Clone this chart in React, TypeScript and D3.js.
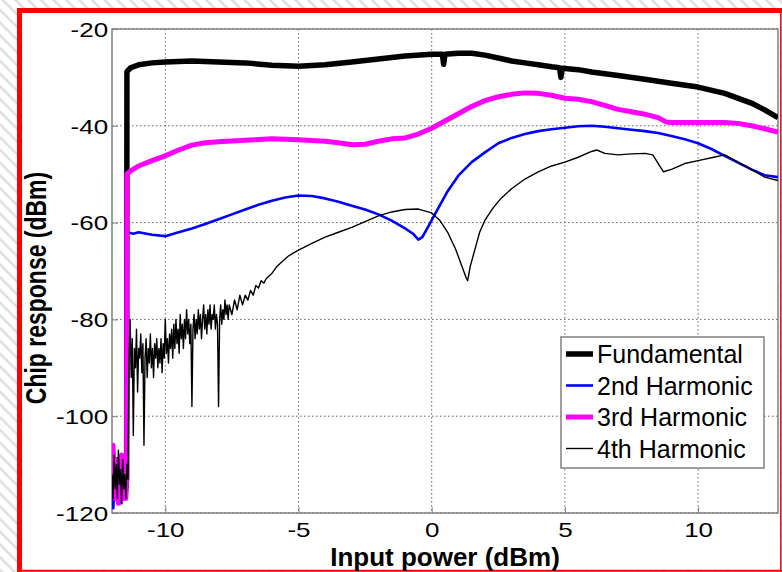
import { useEffect, useRef } from 'react';
import * as d3 from 'd3';

// [input power dBm, response dBm]
const fundamental = [
  [-12, -112], [-11.9, -117], [-11.8, -109], [-11.7, -115], [-11.6, -110], [-11.5, -116], [-11.45, -113],
  [-11.44, -28.8], [-11.3, -28], [-11, -27.4], [-10.5, -27], [-10, -26.8], [-9, -26.6], [-8, -26.8],
  [-7, -27], [-6, -27.5], [-5, -27.7], [-4, -27.4], [-3, -26.8], [-2, -26.2], [-1, -25.6], [0, -25.2],
  [0.4, -25.2], [0.45, -27.3], [0.5, -25.2], [1, -25], [1.5, -25], [2, -25.4], [2.5, -26], [3, -26.6],
  [3.5, -27], [4, -27.4], [4.5, -27.8], [4.8, -28], [4.85, -30], [4.9, -28.1], [5.5, -28.4], [6, -28.9],
  [7, -29.6], [8, -30.4], [9, -31.2], [10, -32], [11, -33.3], [12, -35.3], [12.5, -36.7], [13, -38.3],
];

const second = [
  [-12, -116], [-11.95, -119], [-11.9, -112], [-11.85, -117], [-11.8, -110], [-11.75, -116], [-11.7, -113],
  [-11.65, -118], [-11.6, -108], [-11.55, -115], [-11.5, -113], [-11.45, -117], [-11.42, -62],
  [-11.2, -62.3], [-11, -62], [-10.5, -62.5], [-10, -62.8], [-9.5, -62], [-9, -61.2], [-8.5, -60.3],
  [-8, -59.3], [-7.5, -58.3], [-7, -57.3], [-6.5, -56.3], [-6, -55.5], [-5.5, -54.8], [-5, -54.4],
  [-4.5, -54.5], [-4, -55], [-3.5, -55.7], [-3, -56.5], [-2.5, -57.3], [-2, -58.3], [-1.5, -59.6],
  [-1, -61.2], [-0.7, -62.3], [-0.5, -63.5], [-0.35, -63], [-0.1, -60.5], [0, -59.5], [0.3, -56.5],
  [0.6, -53.5], [1, -50.3], [1.5, -47.5], [2, -45.5], [2.5, -43.6], [3, -42.5], [3.5, -41.7], [4, -41.1],
  [4.5, -40.7], [5, -40.4], [5.5, -40.1], [6, -40], [6.5, -40.2], [7, -40.5], [7.5, -40.8], [8, -41.1],
  [8.5, -41.5], [9, -42.1], [9.5, -42.8], [10, -43.6], [10.5, -44.8], [11, -46.2], [11.5, -47.6],
  [12, -49], [12.5, -50.2], [13, -50.6],
];

const third = [
  [-12, -110], [-11.96, -106], [-11.92, -112], [-11.88, -117], [-11.84, -109], [-11.8, -114], [-11.76, -118],
  [-11.72, -111], [-11.68, -116], [-11.64, -108], [-11.6, -113], [-11.56, -117], [-11.52, -115],
  [-11.48, -117], [-11.45, -112], [-11.44, -50], [-11.3, -49.3], [-11, -48.3], [-10.5, -47.2],
  [-10, -46.2], [-9.5, -45], [-9, -44], [-8.5, -43.5], [-8, -43.3], [-7, -43], [-6, -42.7], [-5, -42.9],
  [-4, -43.2], [-3.5, -43.5], [-3, -43.9], [-2.5, -43.8], [-2, -43.2], [-1.5, -42.7], [-1, -42.5],
  [-0.5, -41.7], [0, -40.5], [0.5, -39], [1, -37.5], [1.5, -36], [2, -34.8], [2.5, -34], [3, -33.5],
  [3.5, -33.2], [4, -33.3], [4.5, -33.7], [5, -34.3], [5.5, -34.5], [6, -35], [6.5, -35.8], [7, -36.6],
  [7.5, -37.1], [8, -37.6], [8.5, -38.3], [8.8, -39.2], [9, -39.3], [10, -39.3], [11, -39.3],
  [11.5, -39.5], [12, -40], [12.5, -40.6], [13, -41.3],
];

const fourth = [
  [-12, -112], [-11.96, -117], [-11.92, -108], [-11.88, -115], [-11.84, -110], [-11.8, -117], [-11.76, -107],
  [-11.72, -114], [-11.68, -111], [-11.64, -118], [-11.6, -109], [-11.56, -115], [-11.52, -112],
  [-11.48, -117], [-11.44, -110], [-11.4, -113], [-11.36, -88], [-11.32, -80], [-11.28, -92], [-11.24, -84],
  [-11.2, -104], [-11.16, -86], [-11.12, -90], [-11.08, -82], [-11.04, -95], [-11, -86], [-10.96, -88],
  [-10.92, -83], [-10.88, -91], [-10.84, -85], [-10.8, -106], [-10.76, -88], [-10.72, -84], [-10.68, -92],
  [-10.64, -86], [-10.6, -89], [-10.56, -83], [-10.52, -90], [-10.48, -86], [-10.44, -92], [-10.4, -85],
  [-10.36, -88], [-10.32, -84], [-10.28, -90], [-10.24, -86], [-10.2, -89], [-10.16, -84], [-10.12, -91],
  [-10.08, -85], [-10.04, -88], [-10, -80], [-9.96, -87], [-9.92, -84], [-9.88, -89], [-9.84, -83],
  [-9.8, -86], [-9.76, -82], [-9.72, -88], [-9.68, -81], [-9.64, -86], [-9.6, -80], [-9.56, -85],
  [-9.52, -82], [-9.48, -87], [-9.44, -79], [-9.4, -84], [-9.36, -81], [-9.32, -86], [-9.28, -80],
  [-9.24, -84], [-9.2, -78], [-9.16, -83], [-9.12, -80], [-9.08, -85], [-9.04, -81], [-9, -98],
  [-8.96, -82], [-8.92, -79], [-8.88, -84], [-8.84, -80], [-8.8, -83], [-8.76, -78], [-8.72, -82],
  [-8.68, -79], [-8.64, -84], [-8.6, -80], [-8.56, -77], [-8.52, -82], [-8.48, -79], [-8.44, -83],
  [-8.4, -78], [-8.36, -81], [-8.32, -77], [-8.28, -82], [-8.24, -79], [-8.2, -80], [-8.16, -77],
  [-8.12, -82], [-8.08, -79], [-8.04, -81], [-8, -98], [-7.96, -80], [-7.92, -77], [-7.88, -81],
  [-7.84, -78], [-7.8, -80], [-7.76, -76], [-7.72, -79], [-7.68, -77], [-7.64, -80], [-7.6, -77],
  [-7.5, -79], [-7.4, -76], [-7.3, -78], [-7.2, -75], [-7.1, -77], [-7, -75], [-6.9, -76], [-6.8, -74],
  [-6.7, -75], [-6.6, -73], [-6.5, -73.5], [-6.4, -72], [-6.3, -72.5], [-6.2, -71.5], [-6, -70.5],
  [-5.8, -69], [-5.6, -68], [-5.4, -67], [-5.2, -66.3], [-5, -65.7], [-4.5, -64.3], [-4, -63],
  [-3.5, -62], [-3, -61], [-2.5, -59.8], [-2, -58.6], [-1.5, -57.8], [-1, -57.3], [-0.5, -57.2],
  [0, -58], [0.3, -59.5], [0.6, -62], [0.9, -65.5], [1.1, -68.5], [1.3, -71.5], [1.35, -72], [1.45, -69],
  [1.6, -66], [1.8, -62], [2, -59.5], [2.3, -57], [2.6, -55], [3, -53], [3.5, -51], [4, -49.5],
  [4.5, -48.3], [5, -47.5], [5.5, -46.5], [6, -45.3], [6.2, -45], [6.5, -45.7], [7, -46], [7.5, -45.8],
  [8, -45.7], [8.3, -46], [8.7, -49.5], [9, -49], [9.5, -47.8], [10, -47.2], [10.5, -46.6], [11, -46],
  [11.5, -47.5], [12, -49], [12.5, -50.6], [13, -51.3],
];

const xTicks = [-10, -5, 0, 5, 10];
const yTicks = [-120, -100, -80, -60, -40, -20];
const legendLabels = ['Fundamental', '2nd Harmonic', '3rd Harmonic', '4th Harmonic'];

export default function App() {
  const svgRef = useRef(null);

  useEffect(() => {
    const svg = d3.select(svgRef.current);
    svg.selectAll('*').remove();

    const width = 782;
    const height = 572;
    const margin = { top: 29, right: 4, bottom: 59, left: 112 };
    const innerWidth = width - margin.left - margin.right;
    const innerHeight = height - margin.top - margin.bottom;

    // hatched page background + red frame
    const defs = svg.append('defs');
    defs.append('pattern')
      .attr('id', 'hatch')
      .attr('patternUnits', 'userSpaceOnUse')
      .attr('width', 9)
      .attr('height', 9)
      .attr('patternTransform', 'rotate(-45)')
      .append('line')
      .attr('x1', 2).attr('y1', 0).attr('x2', 2).attr('y2', 9)
      .attr('stroke', '#dedede')
      .attr('stroke-width', 2.5);
    defs.append('clipPath').attr('id', 'plotclip')
      .append('rect').attr('width', innerWidth).attr('height', innerHeight);

    svg.append('rect').attr('width', width).attr('height', height).attr('fill', 'white');
    svg.append('rect').attr('width', width).attr('height', height).attr('fill', 'url(#hatch)');
    svg.append('rect').attr('x', 19).attr('y', 10).attr('width', 762).attr('height', 561).attr('fill', 'white');
    const frame = svg.append('g').attr('stroke', '#ff0000');
    frame.append('line').attr('x1', 17).attr('x2', 782).attr('y1', 10.5).attr('y2', 10.5).attr('stroke-width', 5);
    frame.append('line').attr('x1', 19.5).attr('x2', 19.5).attr('y1', 8).attr('y2', 572).attr('stroke-width', 5);
    frame.append('line').attr('x1', 780.8).attr('x2', 780.8).attr('y1', 8).attr('y2', 572).attr('stroke-width', 1.5);
    frame.append('line').attr('x1', 17).attr('x2', 782).attr('y1', 570.8).attr('y2', 570.8).attr('stroke-width', 2);

    const g = svg.append('g').attr('transform', `translate(${margin.left},${margin.top})`);

    const x = d3.scaleLinear().domain([-12, 13]).range([0, innerWidth]);
    const y = d3.scaleLinear().domain([-120, -20]).range([innerHeight, 0]);

    // Grid
    const grid = g.append('g').attr('stroke', '#666').attr('stroke-width', 1).attr('stroke-dasharray', '1.5,2.5');
    grid.selectAll('.gx').data(xTicks).enter().append('line')
      .attr('x1', d => x(d)).attr('x2', d => x(d)).attr('y1', 0).attr('y2', innerHeight);
    grid.selectAll('.gy').data(yTicks).enter().append('line')
      .attr('x1', 0).attr('x2', innerWidth).attr('y1', d => y(d)).attr('y2', d => y(d));

    // Axes (plain hyphen minus, like the original)
    const fmt = d => String(d);
    const xAxis = g.append('g')
      .attr('transform', `translate(0,${innerHeight})`)
      .call(d3.axisBottom(x).tickValues(xTicks).tickSize(-6).tickFormat(fmt));
    const yAxis = g.append('g')
      .call(d3.axisLeft(y).tickValues(yTicks).tickSize(-6).tickFormat(fmt));
    [xAxis, yAxis].forEach(ax => {
      ax.select('.domain').remove();
      ax.selectAll('line').attr('stroke', '#808080');
      ax.selectAll('text')
        .attr('fill', '#000')
        .style('font-family', 'Arial, "Liberation Sans", sans-serif')
        .style('font-size', '20px')
        .attr('transform', 'scale(1.3,1)');
    });
    xAxis.selectAll('text').attr('y', 24).attr('dy', 0);
    yAxis.selectAll('text').attr('x', -3).attr('dy', '0.36em');

    g.append('rect')
      .attr('width', innerWidth).attr('height', innerHeight)
      .attr('fill', 'none').attr('stroke', '#808080').attr('stroke-width', 1.5);

    // Curves
    const line = d3.line().x(d => x(d[0])).y(d => y(d[1]));
    const series = [
      { data: fundamental, color: '#000000', w: 5.5 },
      { data: second, color: '#0000ff', w: 2.6 },
      { data: third, color: '#ff00ff', w: 5 },
      { data: fourth, color: '#000000', w: 1.4 },
    ];
    const curves = g.append('g').attr('clip-path', 'url(#plotclip)');
    series.forEach(s => {
      curves.append('path')
        .datum(s.data)
        .attr('fill', 'none')
        .attr('stroke', s.color)
        .attr('stroke-width', s.w)
        .attr('stroke-linejoin', 'round')
        .attr('d', line);
    });

    // Axis labels
    svg.append('text')
      .attr('x', margin.left + innerWidth / 2)
      .attr('y', 566)
      .attr('text-anchor', 'middle')
      .style('font-family', 'Arial, "Liberation Sans", sans-serif')
      .style('font-size', '26px')
      .style('font-weight', 'bold')
      .text('Input power (dBm)');
    svg.append('text')
      .attr('transform', 'translate(46,288) rotate(-90) scale(1,1.3)')
      .attr('text-anchor', 'middle')
      .style('font-family', 'Arial, "Liberation Sans", sans-serif')
      .style('font-size', '23px')
      .style('font-weight', 'bold')
      .text('Chip response (dBm)');

    // Legend
    const legend = svg.append('g').attr('transform', 'translate(561,337)');
    legend.append('rect')
      .attr('width', 203).attr('height', 131)
      .attr('fill', 'white').attr('stroke', '#808080').attr('stroke-width', 1.5);
    series.forEach((s, i) => {
      const cy = 17 + i * 31.5;
      legend.append('line')
        .attr('x1', 5).attr('x2', 32).attr('y1', cy).attr('y2', cy)
        .attr('stroke', s.color).attr('stroke-width', s.w);
      legend.append('text')
        .attr('x', 36).attr('y', cy + 9)
        .style('font-family', 'Arial, "Liberation Sans", sans-serif')
        .style('font-size', '25px')
        .text(legendLabels[i]);
    });
  }, []);

  return (
    <svg ref={svgRef} width={782} height={572} style={{ position: 'absolute', left: 0, top: 0 }} />
  );
}
